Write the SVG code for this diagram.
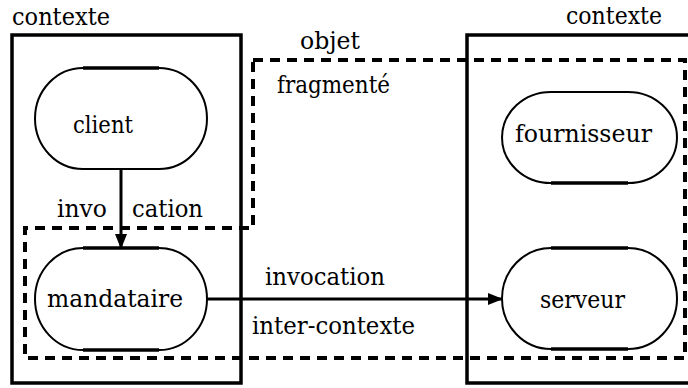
<svg xmlns="http://www.w3.org/2000/svg" width="688" height="388" viewBox="0 0 688 388">
<defs>
<style>
.t{font-family:'DejaVu Serif','Liberation Serif','Noto Serif',serif;font-size:25px;fill:#000}
.ctx{fill:none;stroke:#000;stroke-width:3.5}
.dash{fill:none;stroke:#000;stroke-width:4;stroke-dasharray:10 7}
.arc{fill:#fff;stroke:#000;stroke-width:2}
.flat{stroke:#000;stroke-width:3.5}
.conn{stroke:#000;stroke-width:3;fill:none}
</style>
<marker id="ah" markerWidth="15" markerHeight="12" refX="14" refY="6" orient="auto" markerUnits="userSpaceOnUse">
<path d="M0,0 L15,6 L0,12 Z" fill="#000"/>
</marker>
</defs>
<g id="contexte-gauche">
<rect class="ctx" x="12" y="35" width="229" height="348"/>
<text class="t" x="12" y="25" textLength="98" lengthAdjust="spacingAndGlyphs">contexte</text>
</g>
<g id="contexte-droit">
<rect class="ctx" x="467" y="35" width="240" height="348"/>
<text class="t" x="566" y="24" textLength="96" lengthAdjust="spacingAndGlyphs">contexte</text>
</g>
<g id="objet-fragmente">
<path class="dash" d="M253,60 H685 V358 H25 V228 H253 Z"/>
<text class="t" x="300" y="49" textLength="60" lengthAdjust="spacingAndGlyphs">objet</text>
<text class="t" x="277" y="93" textLength="113" lengthAdjust="spacingAndGlyphs">fragmenté</text>
</g>
<g id="client">
<path class="arc" d="M83,68 H159 A48,50.5 0 0 1 159,169 H83 A48,50.5 0 0 1 83,68 Z"/>
<line class="flat" x1="83" y1="68" x2="159" y2="68"/>
<text class="t" x="73" y="133" textLength="60" lengthAdjust="spacingAndGlyphs">client</text>
</g>
<g id="mandataire">
<path class="arc" d="M83,248 H159 A48,51 0 0 1 159,350 H83 A48,51 0 0 1 83,248 Z"/>
<line class="flat" x1="83" y1="248" x2="159" y2="248"/>
<line class="flat" x1="83" y1="350" x2="159" y2="350"/>
<text class="t" x="47" y="307" textLength="136" lengthAdjust="spacingAndGlyphs">mandataire</text>
</g>
<g id="fournisseur">
<path class="arc" d="M551,92 H628 A49,45.5 0 0 1 628,183 H551 A49,45.5 0 0 1 551,92 Z"/>
<line class="flat" x1="551" y1="183" x2="628" y2="183"/>
<text class="t" x="515" y="142" textLength="137" lengthAdjust="spacingAndGlyphs">fournisseur</text>
</g>
<g id="serveur">
<path class="arc" d="M551,248 H628 A49,50.5 0 0 1 628,349 H551 A49,50.5 0 0 1 551,248 Z"/>
<line class="flat" x1="551" y1="248" x2="628" y2="248"/>
<line class="flat" x1="551" y1="349" x2="628" y2="349"/>
<text class="t" x="540" y="308" textLength="85" lengthAdjust="spacingAndGlyphs">serveur</text>
</g>
<g id="connecteurs">
<line class="conn" x1="121" y1="169" x2="121" y2="248" marker-end="url(#ah)"/>
<text class="t" x="57" y="217" textLength="50" lengthAdjust="spacingAndGlyphs">invo</text>
<text class="t" x="132" y="217" textLength="71" lengthAdjust="spacingAndGlyphs">cation</text>
<line class="conn" x1="207" y1="299" x2="502" y2="299" marker-end="url(#ah)"/>
<text class="t" x="265" y="285" textLength="120" lengthAdjust="spacingAndGlyphs">invocation</text>
<text class="t" x="252" y="334" textLength="163" lengthAdjust="spacingAndGlyphs">inter-contexte</text>
</g>
</svg>
